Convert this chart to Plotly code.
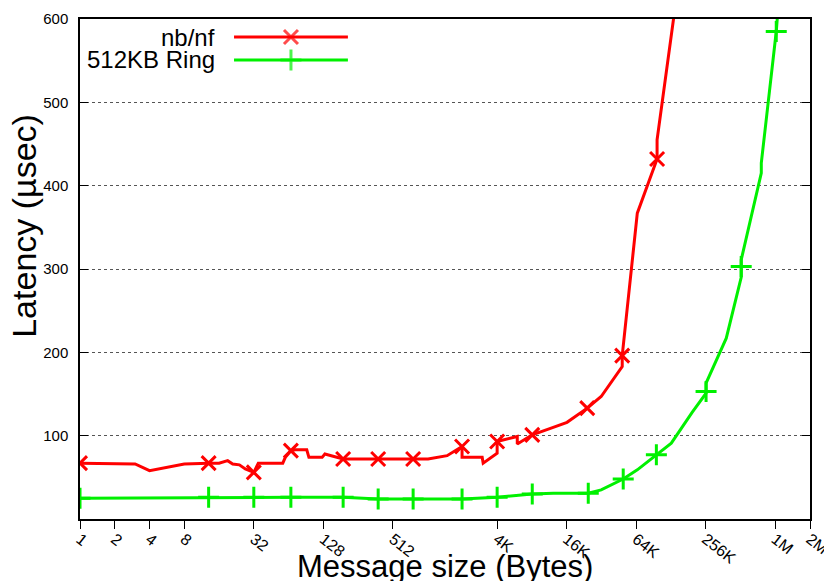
import plotly.graph_objects as go

# ---- data (message size in bytes, latency in usec) ----
red_x = [1, 3, 4, 8, 13, 16, 19, 21, 24, 27, 32, 35, 47, 57, 60, 67, 73, 92, 96, 125, 132, 152, 190,
         382, 515, 767, 1033, 1510, 2035, 2035, 3040, 3100, 4096, 4096, 6120, 6120, 8250, 12530,
         16500, 24700, 32600, 49600, 49600, 67000, 99400, 99400, 158000]
red_y = [67, 66, 58, 66, 67, 67, 70, 66, 65, 60, 56, 67, 67, 67, 74, 82, 83, 83, 74, 74, 78, 76, 72,
         72, 72, 72, 72, 76, 87, 74, 74, 67, 79, 93, 99, 90, 101, 110,
         116, 133, 147, 183, 196, 367, 432, 455, 660]
red_mx = [1, 13, 32, 67, 190, 382, 767, 2035, 4096, 8250, 24700, 49600, 99400]
red_my = [67, 67, 56, 82, 72, 72, 72, 87, 93, 101, 133, 196, 432]

green_x = [1, 13, 21, 32, 67, 190, 382, 767, 2035, 4096, 8250, 12530, 25200, 32600, 50600, 67000,
           98000, 132000, 200000, 264000, 264000, 395000, 532000, 532000, 794000, 794000, 1070000, 1420000]
green_y = [25, 26, 26, 26, 26, 26, 24, 24, 24, 26, 30, 31, 31, 35, 48, 59,
           77, 91, 128, 151, 163, 217, 290, 311, 415, 427, 585, 800]
green_mx = [1, 13, 32, 67, 190, 382, 767, 2035, 4096, 8250, 25200, 50600, 98000, 264000, 532000, 1070000]
green_my = [25, 26, 26, 26, 26, 24, 24, 24, 26, 30, 31, 48, 77, 153, 303, 585]

tick_vals = [1, 2, 4, 8, 32, 128, 512, 4096, 16384, 65536, 262144, 1048576, 2097152]
tick_text = ['1', '2', '4', '8', '32', '128', '512', '4K', '16K', '64K', '256K', '1M', '2M']
y_ticks = [100, 200, 300, 400, 500, 600]

series_names = ['nb/nf', '512KB Ring']

RED = '#ff0000'
GREEN = '#00f000'
FONT = 'Liberation Sans, Arial, sans-serif'

fig = go.Figure()

fig.add_trace(go.Scatter(x=red_x, y=red_y, mode='lines', line=dict(color=RED, width=3),
                         showlegend=False, hoverinfo='skip'))
fig.add_trace(go.Scatter(x=red_mx, y=red_my, mode='markers', name=series_names[0],
                         marker=dict(symbol='x-thin-open', size=14, color=RED,
                                     line=dict(color=RED, width=3)),
                         showlegend=False))
fig.add_trace(go.Scatter(x=green_x, y=green_y, mode='lines', line=dict(color=GREEN, width=3),
                         showlegend=False, hoverinfo='skip'))
fig.add_trace(go.Scatter(x=green_mx, y=green_my, mode='markers', name=series_names[1],
                         marker=dict(symbol='cross-thin-open', size=15, color=GREEN,
                                     line=dict(color=GREEN, width=3)),
                         showlegend=False))

# ---- legend samples (gnuplot style: text right-aligned, then sample) ----
leg_x = [0.211, 0.289, 0.367]
leg_rows = [0.964, 0.918]
leg_styles = [(RED, 'x-thin-open', 14), (GREEN, 'cross-thin-open', 15)]
for (col, sym, sz), yy, name in zip(leg_styles, leg_rows, series_names):
    fig.add_trace(go.Scatter(x=leg_x, y=[yy] * 3, xaxis='x2', yaxis='y2', mode='lines+markers',
                             line=dict(color=col, width=3),
                             marker=dict(symbol=sym, size=[0, sz, 0], color=col,
                                         line=dict(color=col, width=3)),
                             showlegend=False, hoverinfo='skip'))
    fig.add_annotation(x=0.188, y=yy, xref='paper', yref='paper', text=name, showarrow=False,
                       xanchor='right', yanchor='middle', font=dict(family=FONT, size=24, color='black'))

fig.add_annotation(x=0.5, y=-0.094, xref='paper', yref='paper', text='Message size (Bytes)',
                   showarrow=False, xanchor='center', yanchor='middle',
                   font=dict(family=FONT, size=31, color='black'))
fig.add_annotation(x=-0.077, y=0.586, xref='paper', yref='paper', text='Latency (µsec)',
                   showarrow=False, xanchor='center', yanchor='middle', textangle=-90,
                   font=dict(family=FONT, size=34, color='black'))

# page body has an 8px margin: figure size/margins compensate so the plot area sits at x 80-810, y 19-519
fig.update_layout(
    width=824, height=573,
    margin=dict(l=72, r=22, t=11, b=62, autoexpand=False),
    paper_bgcolor='white', plot_bgcolor='white',
    showlegend=False,
    font=dict(family=FONT, size=15, color='black'),
    xaxis=dict(type='log', range=[0, 6.32163], tickvals=tick_vals, ticktext=tick_text,
               tickangle=38, ticks='outside', ticklen=8, tickwidth=1, tickcolor='black',
               showline=True, linecolor='black', linewidth=1.5, mirror=True, automargin=False,
               ticklabelstandoff=-5,
               showgrid=False, zeroline=False, tickfont=dict(size=16)),
    yaxis=dict(range=[0, 600], tickvals=y_ticks, ticks='inside', ticklen=8, tickwidth=1,
               tickcolor='black', showline=True, linecolor='black', linewidth=1.5, mirror='ticks',
               showgrid=True, gridcolor='#555555', griddash='dot', gridwidth=1, zeroline=False,
               automargin=False, ticklabelstandoff=7, tickfont=dict(size=15)),
    xaxis2=dict(overlaying='x', range=[0, 1], visible=False),
    yaxis2=dict(overlaying='y', range=[0, 1], visible=False),
)

fig.write_html('out.html')
